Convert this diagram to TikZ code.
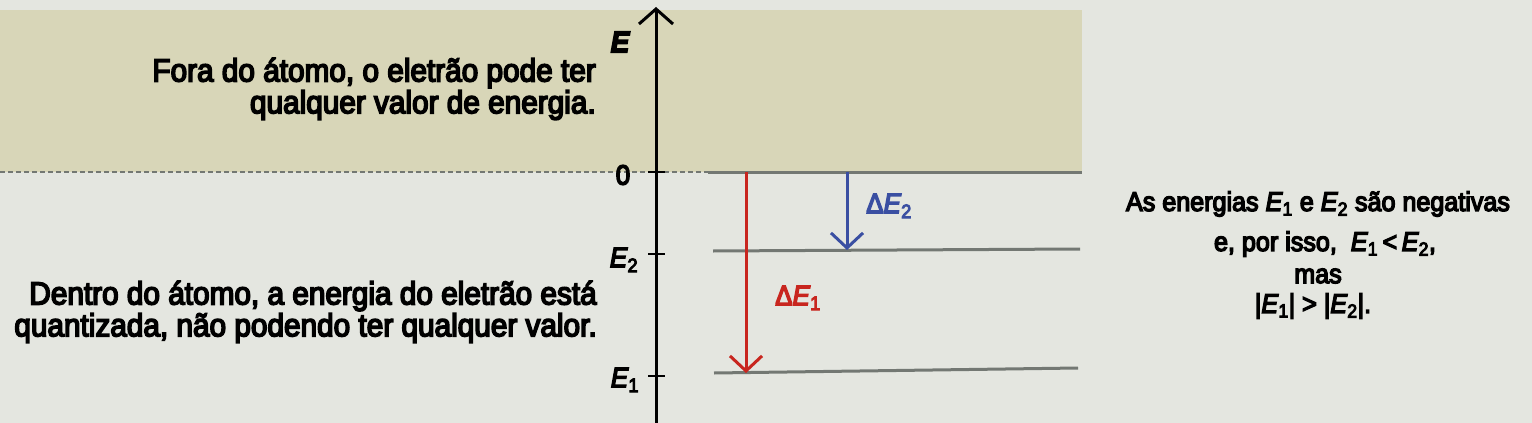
\documentclass[tikz,border=0pt]{standalone}
\usepackage{fontspec}
\setmainfont{Liberation Sans}[FakeStretch=0.93,FakeBold=5]
\usetikzlibrary{arrows.meta}
\definecolor{bg}{HTML}{E4E6E0}
\definecolor{band}{HTML}{D8D6B8}
\definecolor{lvl}{HTML}{737873}
\definecolor{redA}{HTML}{C8261F}
\definecolor{blueA}{HTML}{3A4FA2}
\newcommand\En[1]{\textit{E}\textsubscript{#1}}
\tikzset{
  big/.style={font=\fontsize{32}{32}\selectfont, inner sep=0pt},
  small/.style={font=\fontsize{27}{31}\selectfont, inner sep=0pt},
  axlab/.style={font=\fontsize{28}{30}\selectfont, inner sep=0pt},
  level/.style={draw=lvl, line width=3pt},
  tick/.style={draw=black, line width=2.4pt},
  chev/.style={-{Straight Barb[length=15pt,width=32pt,line width=3pt]}},
  trans/.style={line width=3pt, chev},
}
\begin{document}
\begin{tikzpicture}[x=1pt,y=-1pt]
\useasboundingbox (0,0) rectangle (1532,423);
\fill[bg] (0,0) rectangle (1532,423);
\fill[band] (0,10) rectangle (1082,172);
% zero line
\coordinate (zl) at (0,172);
\coordinate (zd) at (708,172);
\coordinate (zr) at (1082,172);
\draw[lvl, line width=2.5pt, dash pattern=on 5pt off 3pt] (zl) -- (zd);
\draw[level] (zd) -- (zr);
% levels
\coordinate (e2l) at (713,251);
\coordinate (e2r) at (1080,249);
\coordinate (e1l) at (714,373);
\coordinate (e1r) at (1078,368);
\draw[level] (e2l) -- (e2r);
\draw[level] (e1l) -- (e1r);
% axis
\coordinate (axb) at (656,423);
\coordinate (axt) at (656,7);
\draw[line width=3pt, -{Straight Barb[length=15pt,width=34pt,line width=3pt]}] (axb) -- (axt);
\coordinate (t0a) at (648,172); \coordinate (t0b) at (665,172);
\coordinate (t2a) at (648,254); \coordinate (t2b) at (665,254);
\coordinate (t1a) at (648,376); \coordinate (t1b) at (665,376);
\draw[tick] (t0a) -- (t0b);
\draw[tick] (t2a) -- (t2b);
\draw[tick] (t1a) -- (t1b);
\node[axlab, font=\fontsize{30}{30}\selectfont\bfseries\itshape] (lE) at (620,42) {E};
\node[axlab] (l0) at (623,175) {0};
\node[axlab] (l2) at (624,260) {\En{2}};
\node[axlab] (l1) at (625,380) {\En{1}};
% transitions
\coordinate (ra) at (746,172);
\coordinate (rb) at (746,373);
\coordinate (ba) at (847,172);
\coordinate (bb) at (847,250);
\draw[trans, redA] (ra) -- (rb);
\draw[trans, blueA] (ba) -- (bb);
\node[axlab, text=blueA] (dE2) at (889,206) {Δ\En{2}};
\node[axlab, text=redA] (dE1) at (798,298) {Δ\En{1}};
% left texts
\node[big, anchor=east] (fora1) at (596,73) {Fora do átomo, o eletrão pode ter};
\node[big, anchor=east] (fora2) at (596,105) {qualquer valor de energia.};
\node[big, anchor=east] (dent1) at (597,296) {Dentro do átomo, a energia do eletrão está};
\node[big, anchor=east] (dent2) at (597,328) {quantizada, não podendo ter qualquer valor.};
% right text
\node[small] (r1) at (1318,204) {As energias \En{1} e \En{2} são negativas};
\node[small] (r2) at (1325,244) {e, por isso,\ \ \En{1}\,<\,\En{2},};
\node[small] (r3) at (1318,276) {mas};
\node[small] (r4) at (1313,306) {|\En{1}| > |\En{2}|.};
\end{tikzpicture}
\end{document}
